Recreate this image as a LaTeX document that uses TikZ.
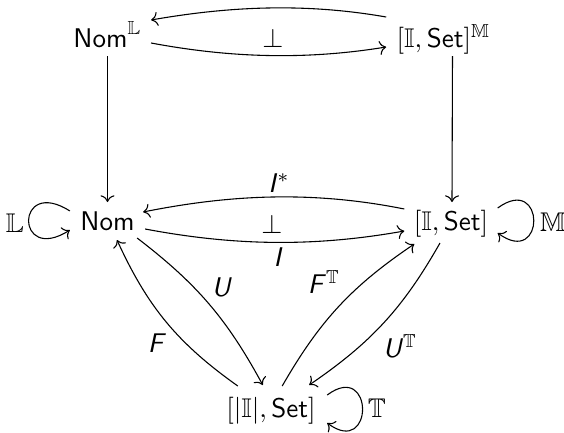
\documentclass[tikz,border=0pt]{standalone}
\usepackage{amssymb}
\usetikzlibrary{arrows.meta}
\begin{document}
\begin{tikzpicture}[x=0.37pt,y=-0.37pt,
  >={Computer Modern Rightarrow},
  obj/.style={inner sep=0pt, anchor=base},
  lbl/.style={inner sep=0pt},
  arr/.style={->, line width=0.4pt}]
\useasboundingbox (0,0) rectangle (564,433);
% objects
\node[obj] (nomL) at (107.5,47) {$\mathsf{Nom}^{\mathbb{L}}$};
\node[obj] (setM) at (443.5,47) {$[\mathbb{I},\mathsf{Set}]^{\mathbb{M}}$};
\node[obj] (nom)  at (107.5,230) {$\mathsf{Nom}$};
\node[obj] (set)  at (451,230) {$[\mathbb{I},\mathsf{Set}]$};
\node[obj] (tset) at (271,417) {$[|\mathbb{I}|,\mathsf{Set}]$};
% top adjunction
\draw[arr] ([shift={(-10,-30)}]setM.base west) .. controls +(-80,-14) and +(80,-14) .. ([shift={(9,-27)}]nomL.base east);
\draw[arr] ([shift={(9,-4)}]nomL.base east) .. controls +(80,15) and +(-80,13) .. ([shift={(-10,0)}]setM.base west);
\node[lbl] (perpT) at (273,38) {$\perp$};
% verticals
\draw[arr] ([shift={(0,9)}]nomL.base) -- ([shift={(0,-28)}]nom.base);
\draw[arr] ([shift={(9,9)}]setM.base) -- ([shift={(1,-28)}]set.base);
% middle adjunction
\draw[arr] ([shift={(-9,-21)}]set.base west) .. controls +(-90,-18) and +(90,-18) .. ([shift={(8,-18)}]nom.base east);
\draw[arr] ([shift={(10,-1)}]nom.base east) .. controls +(90,17) and +(-90,16) .. ([shift={(-9,1)}]set.base west);
\node[lbl] (lIs) at (279,183) {\textsf{\textit{I}}$^{*}$};
\node[lbl] (perpM) at (272,224) {$\perp$};
\node[lbl] (lI) at (278,257) {\textsf{\textit{I}}};
% loops
\draw[arr] ([shift={(-10,-19)}]nom.base west) .. controls +(-55,-35) and +(-55,35) .. ([shift={(-10,0)}]nom.base west);
\node[lbl] (lL) at (15,223) {$\mathbb{L}$};
\draw[arr] ([shift={(9,-22)}]set.base east) .. controls +(48,-35) and +(48,35) .. ([shift={(9,3)}]set.base east);
\node[lbl] (lM) at (553,222) {$\mathbb{M}$};
\draw[arr] ([shift={(11,-22)}]tset.base east) .. controls +(47,-35) and +(47,35) .. ([shift={(11,6)}]tset.base east);
\node[lbl] (lT) at (377,408) {$\mathbb{T}$};
% lower edges
\draw[arr] ([shift={(2,8)}]nom.base east) to[bend left=12] ([shift={(37,-32)}]tset.base west);
\draw[arr] ([shift={(12,-31)}]tset.base west) to[bend left=15] ([shift={(9.5,10)}]nom.base);
\draw[arr] ([shift={(-34,-31)}]tset.base east) to[bend left=13] ([shift={(1,14)}]set.base west);
\draw[arr] ([shift={(-11,13)}]set.base) to[bend left=13] ([shift={(-7,-32)}]tset.base east);
\node[lbl] (lU) at (222,287) {\textsf{\textit{U}}};
\node[lbl] (lF) at (157,343) {\textsf{\textit{F}}};
\node[lbl] (lFT) at (324,282) {\textsf{\textit{F}}$^{\mathbb{T}}$};
\node[lbl] (lUT) at (400,346) {\textsf{\textit{U}}$^{\mathbb{T}}$};
\end{tikzpicture}
\end{document}
